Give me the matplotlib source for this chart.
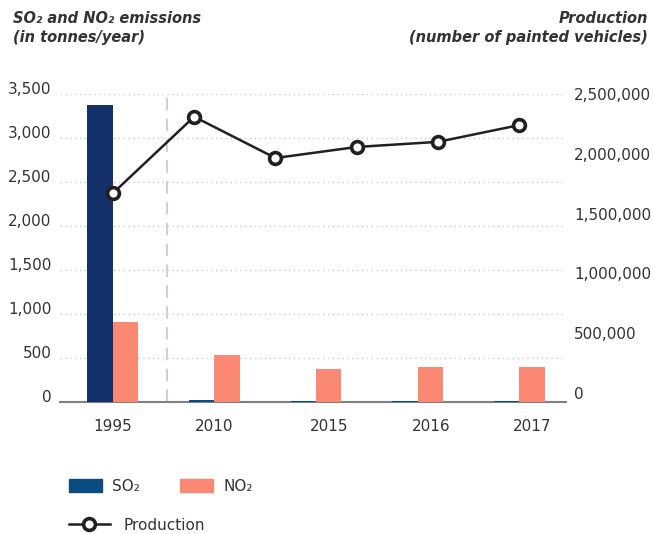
import matplotlib.pyplot as plt
import matplotlib.patches as mpatches
import matplotlib.transforms as mtransforms
from matplotlib.lines import Line2D
from matplotlib.ticker import FuncFormatter
import numpy as np

# dados
years = ['1995', '2010', '2015', '2016', '2017']
so2 = [3375, 20, 8, 15, 8]
no2 = [910, 534, 375, 398, 398]
production = [1670000, 2310000, 1965000, 2057000, 2100000, 2240000]

left_ticks = [0, 500, 1000, 1500, 2000, 2500, 3000, 3500]
right_ticks = [0, 500000, 1000000, 1500000, 2000000, 2500000]

navy = '#14306a'
blue = '#0b4c82'
salmon = '#fa8872'
dark = '#231f20'
txt = '#333333'

plt.rcParams['font.family'] = ['DejaVu Sans']

fig = plt.figure(figsize=(6.54, 5.34), dpi=100)
ax = fig.add_axes([60 / 654, 1 - 402 / 534, 506 / 654, 308 / 534])

x = np.arange(len(years))
w = 0.25
so2_colors = [navy] + [blue] * (len(years) - 1)
ax.bar(x - w / 2, so2, width=w, color=so2_colors, zorder=3)
ax.bar(x + w / 2, no2, width=w, color=salmon, zorder=3)

ax.set_xlim(-0.52, 4.46)
ax.set_ylim(0, 3500)
ax.set_yticks(left_ticks)
ax.yaxis.set_major_formatter(FuncFormatter(lambda v, p: f'{int(v):,}'))
ax.tick_params(axis='y', length=0, pad=6, labelsize=11, labelcolor=txt)
# rotulos da esquerda ficam um pouco acima das linhas
shift = mtransforms.ScaledTranslation(0, 4 / 72, fig.dpi_scale_trans)
for lbl in ax.get_yticklabels():
    lbl.set_transform(lbl.get_transform() + shift)
for t in left_ticks[1:]:
    ax.axhline(t, color='#c8c8c8', lw=1, ls=(0, (1, 2.5)), zorder=1)

# separacao entre 1995 e o resto
ax.axvline(0.53, color='#d0d0d0', lw=1.5, ls=(0, (6, 4)), zorder=1)

ax.set_xticks([0, 1, 2.13, 3.13, 4.13])
ax.set_xticklabels(years)
ax.tick_params(axis='x', length=0, pad=12, labelsize=11, labelcolor=txt)

for s in ['top', 'right', 'left']:
    ax.spines[s].set_visible(False)
ax.spines['bottom'].set_color('#808080')
ax.spines['bottom'].set_linewidth(1.5)

# eixo da producao
ax2 = ax.twinx()
px = np.linspace(0, 4, len(production))
ax2.plot(px, production, color=dark, lw=1.8, marker='o', ms=8.5,
         mfc='white', mec=dark, mew=2.6, zorder=5)
ax2.set_ylim(-75000, 2500000)
ax2.set_yticks(right_ticks)
ax2.yaxis.set_major_formatter(FuncFormatter(lambda v, p: f'{int(v):,}'))
ax2.tick_params(axis='y', length=0, pad=6, labelsize=11, labelcolor=txt)
for s in ['top', 'right', 'left', 'bottom']:
    ax2.spines[s].set_visible(False)

# titulos dos eixos
fig.text(13 / 654, 1 - 11 / 534, 'SO\u2082 and NO\u2082 emissions\n(in tonnes/year)',
         ha='left', va='top', fontsize=10.5, fontweight='bold', style='italic',
         color=txt, linespacing=1.3)
fig.text(648 / 654, 1 - 11 / 534, 'Production\n(number of painted vehicles)',
         ha='right', va='top', fontsize=10.5, fontweight='bold', style='italic',
         color=txt, linespacing=1.3, multialignment='right')

# legendas
h1 = [mpatches.Patch(color=blue, label='SO\u2082'),
      mpatches.Patch(color=salmon, label='NO\u2082')]
fig.legend(handles=h1, loc='upper left', bbox_to_anchor=(55 / 654, 1 - 465 / 534),
           ncol=2, frameon=False, fontsize=11, handlelength=2.15,
           handleheight=0.85, handletextpad=0.7, columnspacing=2.6,
           labelcolor=txt)
h2 = [Line2D([], [], color=dark, lw=1.8, marker='o', ms=8.5, mfc='white',
             mec=dark, mew=2.6, label='Production')]
fig.legend(handles=h2, loc='upper left', bbox_to_anchor=(55 / 654, 1 - 504 / 534),
           frameon=False, fontsize=11, handlelength=2.7, handletextpad=0.9,
           labelcolor=txt)

fig.savefig('out.png', dpi=100)
